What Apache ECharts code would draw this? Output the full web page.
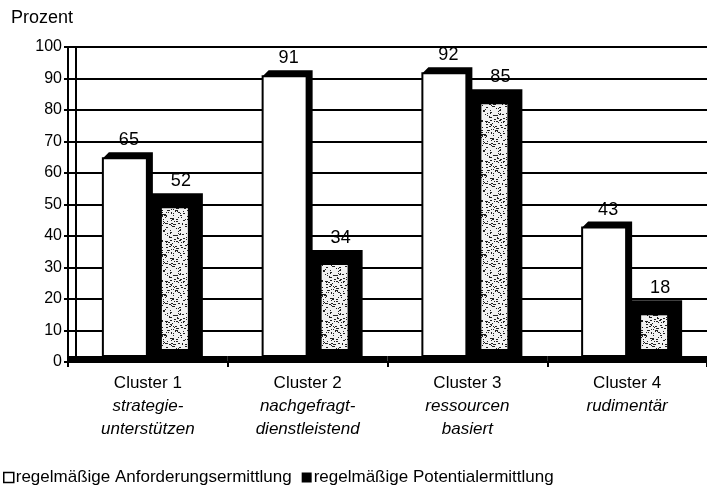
<!DOCTYPE html>
<html>
<head>
<meta charset="utf-8">
<script src="https://cdn.jsdelivr.net/npm/echarts@6/dist/echarts.min.js"></script>
<style>
  html, body { margin: 0; padding: 0; background: #fff; }
  #main { width: 707px; height: 492px; }
</style>
</head>
<body>
<div id="main"></div>
<script>
var categories = ['Cluster 1', 'Cluster 2', 'Cluster 3', 'Cluster 4']
var subtitles = [['strategie-', 'unterstützen'], ['nachgefragt-', 'dienstleistend'], ['ressourcen', 'basiert'], ['rudimentär']]
var anforderung = [65, 91, 92, 43]
var potential = [52, 34, 85, 18]
var legend_names = ['regelmäßige Anforderungsermittlung', 'regelmäßige Potentialermittlung']

var FONT = '"Liberation Sans", Arial, sans-serif'

// speckled grey texture used inside the dark bars
function speckle() {
    var n = 40
    var c = document.createElement('canvas')
    c.width = n
    c.height = n
    var ctx = c.getContext('2d')
    ctx.fillStyle = '#f2f2f2'
    ctx.fillRect(0, 0, n, n)
    ctx.fillStyle = '#222'
    var s = 11
    for (var i = 0; i < n * n; i++) {
        s = (s * 1103515245 + 12345) % 2147483648
        var r = (s >> 10) % 100
        if (r < 12) {
            ctx.fillRect(i % n, Math.floor(i / n), r < 4 ? 2 : 1, 1)
        }
    }
    return c
}
var pattern = { image: speckle(), repeat: 'repeat' }

function renderWhite(params, api) {
    var p = api.coord([api.value(0), api.value(1)])
    var base = api.coord([api.value(0), 0])
    var band = api.size([1, 0])[0]
    var cx = p[0], yv = p[1], y0 = base[1] - 6, d = 6
    var x0 = cx - 45, x1 = cx - 1
    return {
        type: 'group',
        children: [
            { type: 'rect', shape: { x: cx - band / 2, y: y0, width: band, height: 7 }, style: { fill: '#000' } },
            { type: 'polygon', shape: { points: [[x0, yv + 1], [x0 + d, yv - 5], [x1 + d, yv - 5], [x1 + d, y0], [x1, y0], [x1, yv + 1]] }, style: { fill: '#000' } },
            { type: 'rect', shape: { x: x0, y: yv + 1, width: x1 - x0, height: y0 - yv - 1 }, style: { fill: '#fff', stroke: '#000', lineWidth: 2 } },
            { type: 'text', style: { text: String(api.value(1)), x: cx - 19, y: yv - 17, align: 'center', verticalAlign: 'middle', font: '18px ' + FONT, fill: '#000' } }
        ]
    }
}

function renderDark(params, api) {
    var p = api.coord([api.value(0), api.value(1)])
    var base = api.coord([api.value(0), 0])
    var cx = p[0], yv = p[1], y0 = base[1] - 6
    var top = yv - 5
    return {
        type: 'group',
        children: [
            { type: 'rect', shape: { x: cx - 1, y: top, width: 56, height: y0 - top }, style: { fill: '#000' } },
            { type: 'rect', shape: { x: cx + 14, y: top + 15, width: 26, height: Math.max(0, y0 - 7 - top - 15) }, style: { fill: pattern } },
            { type: 'text', style: { text: String(api.value(1)), x: cx + 33, y: yv - 17, align: 'center', verticalAlign: 'middle', font: '18px ' + FONT, fill: '#000' } }
        ]
    }
}

var white_data = anforderung.map(function (v, i) { return [i, v] })
var dark_data = potential.map(function (v, i) { return [i, v] })

var option = {
    animation: false,
    backgroundColor: '#fff',
    title: {
        text: 'Prozent',
        left: 6,
        top: 4,
        textStyle: { fontFamily: FONT, fontSize: 18, fontWeight: 'normal', color: '#000' }
    },
    legend: {
        left: -2,
        top: 464,
        itemWidth: 10,
        itemHeight: 10,
        itemGap: 10,
        icon: 'rect',
        textStyle: { fontFamily: FONT, fontSize: 17, color: '#000', padding: [0, 0, 0, -3] },
        data: [
            { name: legend_names[0], itemStyle: { color: '#fff', borderColor: '#000', borderWidth: 1.5 } },
            { name: legend_names[1], itemStyle: { color: '#000' } }
        ]
    },
    grid: {
        left: 68,
        right: 0,
        top: 47,
        bottom: 130
    },
    xAxis: {
        type: 'category',
        data: categories,
        axisLine: { lineStyle: { color: '#000', width: 2 } },
        axisTick: { show: true, length: 5, lineStyle: { color: '#000', width: 2 } },
        axisLabel: {
            margin: 10,
            interval: 0,
            formatter: function (v, i) {
                var s = '{a|' + v + '}'
                subtitles[i].forEach(function (t) { s += '\n{b|' + t + '}' })
                return s
            },
            rich: {
                a: { fontFamily: FONT, fontSize: 17, color: '#000', lineHeight: 23 },
                b: { fontFamily: FONT, fontSize: 17, fontStyle: 'italic', color: '#000', lineHeight: 23 }
            }
        }
    },
    yAxis: [
        {
            type: 'value',
            min: 0,
            max: 100,
            interval: 10,
            axisLine: { show: true, lineStyle: { color: '#000', width: 2 } },
            axisTick: { show: true, length: 4, lineStyle: { color: '#000', width: 2 } },
            axisLabel: { margin: 6, fontFamily: FONT, fontSize: 16, color: '#000' },
            splitLine: { show: true, lineStyle: { color: '#000', width: 2 } }
        },
        {
            type: 'value',
            min: 0,
            max: 100,
            interval: 10,
            position: 'left',
            offset: -8,
            axisLine: { show: true, lineStyle: { color: '#000', width: 2 } },
            axisTick: { show: false },
            axisLabel: { show: false },
            splitLine: { show: false }
        }
    ],
    series: [
        {
            name: legend_names[0],
            type: 'custom',
            renderItem: renderWhite,
            itemStyle: { color: '#fff', borderColor: '#000' },
            encode: { x: 0, y: 1 },
            data: white_data,
            silent: true
        },
        {
            name: legend_names[1],
            type: 'custom',
            renderItem: renderDark,
            itemStyle: { color: '#000' },
            encode: { x: 0, y: 1 },
            data: dark_data,
            silent: true
        }
    ]
}

var myChart = echarts.init(document.getElementById('main'))
myChart.setOption(option, true)
</script>
</body>
</html>
